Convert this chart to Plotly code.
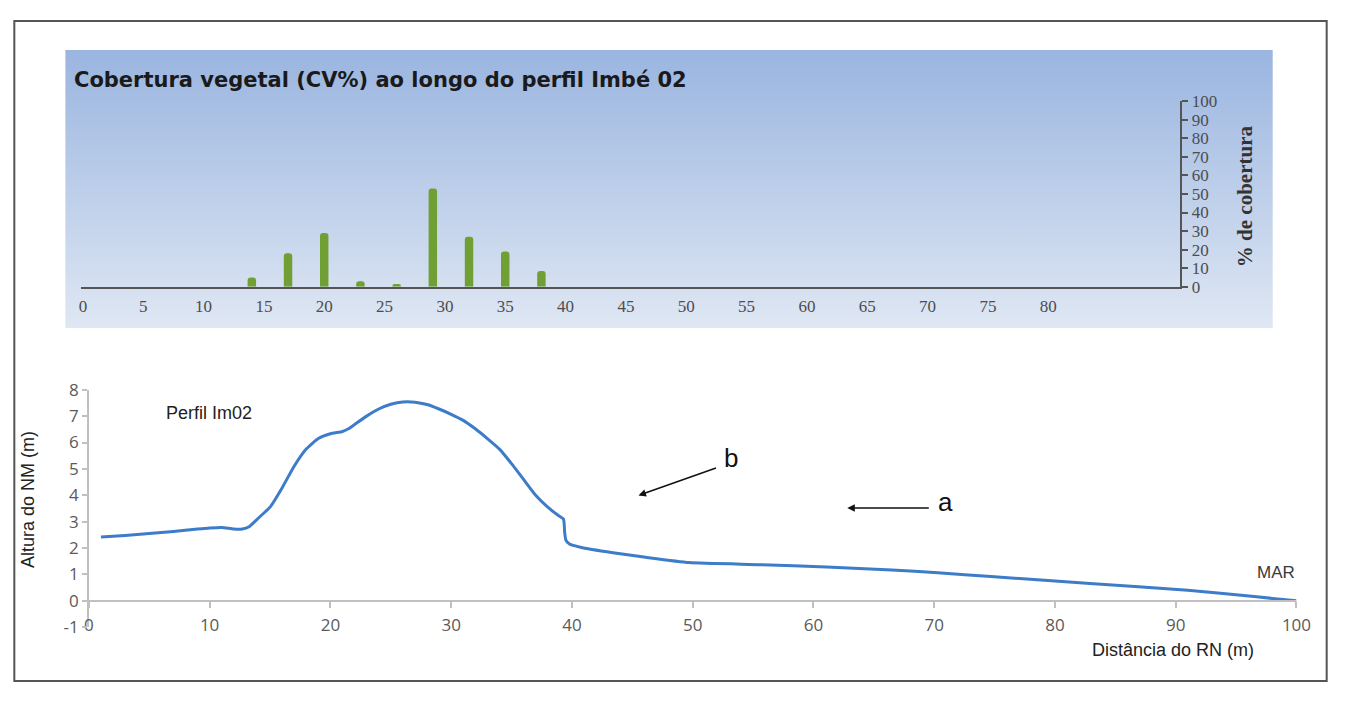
import base64
import plotly.graph_objects as go

# ---------------- data ----------------
# Top panel: vegetation cover (%) along profile Imbé 02
veg_dist = [14, 17, 20, 23, 26, 29, 32, 35, 38]
veg_cover = [5, 18, 29, 3, 1.5, 53, 27, 19, 8.5]
veg_ticks = list(range(0, 85, 5))
cover_ticks = list(range(0, 110, 10))

# Bottom panel: elevation profile Im02
prof_dist = [1, 3, 5, 7, 9, 10, 11, 12, 12.7, 13.3, 14, 15, 16, 17, 18, 19, 20, 21,
             21.5, 22, 23, 24, 25, 26, 27, 28, 29, 30, 31, 32, 33, 34, 35, 36, 37,
             38, 38.8, 39.3, 39.4, 39.5, 39.8, 40.7, 43.4, 46.1, 49.7, 55.6, 61.1,
             66.5, 70.3, 74.7, 82.9, 91, 96.5, 100]
prof_height = [2.42, 2.48, 2.55, 2.63, 2.72, 2.76, 2.78, 2.72, 2.72, 2.82, 3.12, 3.55,
               4.28, 5.1, 5.75, 6.15, 6.33, 6.42, 6.52, 6.68, 7.0, 7.27, 7.45, 7.54,
               7.53, 7.44, 7.27, 7.07, 6.84, 6.52, 6.15, 5.75, 5.2, 4.6, 4.0, 3.55,
               3.26, 3.1, 2.6, 2.3, 2.15, 2.03, 1.82, 1.65, 1.45, 1.37, 1.28, 1.17,
               1.06, 0.92, 0.66, 0.4, 0.16, 0.0]
dist_ticks = list(range(0, 110, 10))
height_ticks = list(range(-1, 9, 1))
height_labels = [str(v) for v in height_ticks]

# The figure fills the window minus the default 8px body margin.
OX, OY = 8, 8
W, H = 1351 - 2 * OX, 701 - 2 * OY


def px(x):
    return (x - OX) / W


def py(y):
    return 1 - (y - OY) / H


fig = go.Figure()

fig.add_trace(go.Bar(
    x=veg_dist, y=veg_cover, xaxis="x", yaxis="y",
    width=0.7, marker=dict(color="#70a034", cornerradius=3, line=dict(width=0)),
    showlegend=False, hoverinfo="x+y"))

fig.add_trace(go.Scatter(
    x=prof_dist, y=prof_height, xaxis="x2", yaxis="y2", mode="lines",
    line=dict(color="#3d7cc9", width=3, shape="spline", smoothing=0.5),
    showlegend=False))

# empty trace so that the overlay axis (line at y=0 with ticks) is drawn
fig.add_trace(go.Scatter(x=[], y=[], xaxis="x3", yaxis="y2", showlegend=False,
                         hoverinfo="skip"))

serif = "Liberation Serif"
sans = "Open Sans"

fig.update_layout(
    autosize=True,
    margin=dict(l=0, r=0, t=0, b=0),
    paper_bgcolor="white",
    plot_bgcolor="rgba(0,0,0,0)",
    xaxis=dict(domain=[px(77), px(1193)], range=[-0.16, 90.94], anchor="y",
               showline=True, linecolor="#555555", linewidth=2, ticks="",
               tickvals=veg_ticks, showgrid=False, zeroline=False,
               tickfont=dict(family=serif, size=17, color="#4d4d4d"),
               ticklabelstandoff=3),
    yaxis=dict(domain=[py(284), py(92)], range=[0, 100], anchor="x", side="right",
               showline=True, linecolor="#555555", linewidth=2, ticks="outside",
               ticklen=6, tickwidth=2, tickcolor="#555555", tickvals=cover_ticks,
               showgrid=False, zeroline=False,
               tickfont=dict(family=serif, size=17, color="#4d4d4d")),
    xaxis2=dict(domain=[px(85), px(1311)], range=[0, 100], anchor="y2",
                showline=False, ticks="", tickvals=dist_ticks, showgrid=False,
                zeroline=False, tickfont=dict(family=sans, size=17, color="#5a5a5a"),
                ticklabelstandoff=-14),
    xaxis3=dict(overlaying="x2", anchor="free", position=py(609), range=[0, 100],
                showline=True, linecolor="#c0c0c0", linewidth=1.5, ticks="outside",
                ticklen=6, tickcolor="#c0c0c0", tickwidth=1.5, tickvals=dist_ticks,
                showticklabels=False, showgrid=False, zeroline=False),
    yaxis2=dict(domain=[py(636.3), py(390.6)], range=[-1, 8], anchor="x2",
                showline=True, linecolor="#c0c0c0", linewidth=1.5, ticks="outside",
                ticklen=5, tickcolor="#c0c0c0", tickwidth=1.5, tickvals=height_ticks,
                ticktext=height_labels, showgrid=False, zeroline=False,
                tickfont=dict(family=sans, size=17, color="#5a5a5a")),
)

# gradient background of the top panel
svg = ('<svg xmlns="http://www.w3.org/2000/svg" width="100" height="100" '
       'preserveAspectRatio="none"><defs><linearGradient id="g" x1="0" y1="0" '
       'x2="0" y2="1"><stop offset="0" stop-color="#9ab5e0"/>'
       '<stop offset="1" stop-color="#dfe7f3"/></linearGradient></defs>'
       '<rect width="100" height="100" fill="url(#g)"/></svg>')
src = "data:image/svg+xml;base64," + base64.b64encode(svg.encode()).decode()
fig.add_layout_image(dict(source=src, xref="paper", yref="paper",
                          x=px(61), y=py(39), sizex=(1287 - 61) / W,
                          sizey=(327 - 39) / H, xanchor="left", yanchor="top",
                          sizing="stretch", layer="below"))

# outer frame
fig.add_shape(type="rect", xref="paper", yref="paper", x0=0.001, x1=0.999,
              y0=0.0015, y1=0.9985, line=dict(color="#555555", width=2))

ann = [
    dict(text="Cobertura vegetal (CV%) ao longo do perfil Imbé 02",
         x=px(68), y=py(70), xanchor="left", yanchor="middle",
         font=dict(family="DejaVu Sans", size=21, color="#1a1a1a", weight="bold")),
    dict(text="% de cobertura", x=px(1259), y=py(190), textangle=-90,
         xanchor="center", yanchor="middle",
         font=dict(family=serif, size=21, color="#333333", weight="bold")),
    dict(text="Perfil Im02", x=px(207), y=py(415), xanchor="center", yanchor="middle",
         font=dict(family="Liberation Sans", size=18, color="#222222")),
    dict(text="Altura do NM (m)", x=px(24), y=py(504), textangle=-90,
         xanchor="center", yanchor="middle",
         font=dict(family="Liberation Sans", size=18, color="#222222")),
    dict(text="Distância do RN (m)", x=px(1186), y=py(660), xanchor="center",
         yanchor="middle", font=dict(family="Liberation Sans", size=18, color="#222222")),
    dict(text="MAR", x=px(1290), y=py(580), xanchor="center", yanchor="middle",
         font=dict(family="Liberation Sans", size=17, color="#3a3a3a")),
    dict(text="a", x=px(955), y=py(507), xanchor="center", yanchor="middle",
         font=dict(family="Liberation Sans", size=26, color="#111111")),
    dict(text="b", x=px(737), y=py(461), xanchor="center", yanchor="middle",
         font=dict(family="Liberation Sans", size=26, color="#111111")),
]
for a in ann:
    a.update(xref="paper", yref="paper", showarrow=False)
    fig.add_annotation(**a)

# arrows
fig.add_annotation(text="", xref="paper", yref="paper", x=px(855), y=py(513),
                   ax=83, ay=0, showarrow=True, arrowhead=2, arrowsize=1,
                   arrowwidth=1.5, arrowcolor="#111111")
fig.add_annotation(text="", xref="paper", yref="paper", x=px(643), y=py(500),
                   ax=79, ay=-28, showarrow=True, arrowhead=2, arrowsize=1,
                   arrowwidth=1.5, arrowcolor="#111111")

fig.write_html("out.html", default_width="100%",
               default_height="calc(100vh - 16px)")
